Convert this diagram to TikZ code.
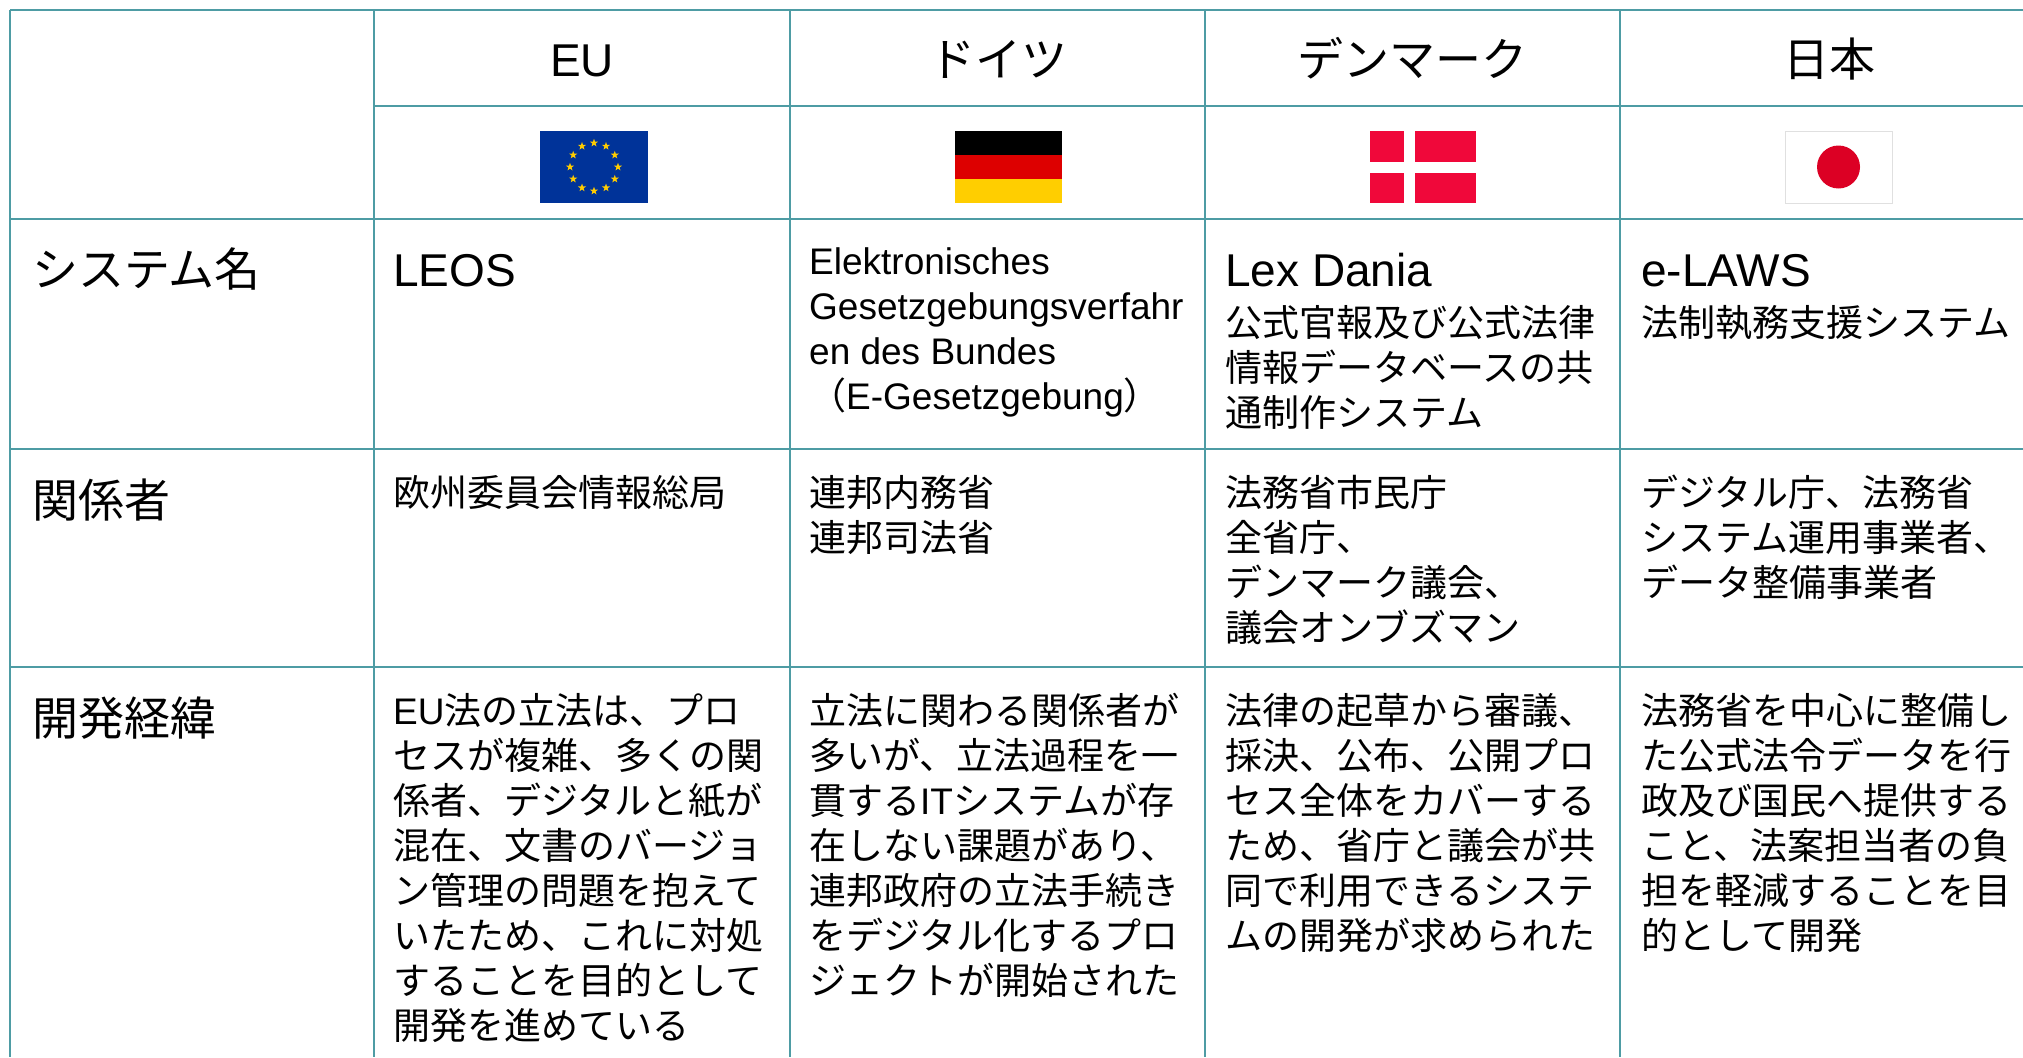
\documentclass[tikz,border=0pt]{standalone}
\usepackage{fontspec}
\setmainfont{Liberation Sans}
\newfontfamily\jp{Noto Sans CJK JP}
\usetikzlibrary{shapes.geometric}
\definecolor{gridc}{HTML}{4E9CA4}
\definecolor{eublue}{HTML}{003399}
\definecolor{euyellow}{HTML}{FFCC00}
\definecolor{degold}{HTML}{FFCE00}
\definecolor{dered}{HTML}{DD0000}
\definecolor{dkred}{HTML}{F0083A}
\definecolor{jpred}{HTML}{DC0024}
\newcommand\la[1]{{\rmfamily #1}}
\newcommand\fst{\rule{0pt}{40pt}}
\tikzset{
  gridline/.style={draw=gridc, line width=2.4pt},
  hdr/.style={font=\fontsize{46}{50}\selectfont, anchor=base, inner sep=0pt},
  hdrjp/.style={font=\jp\fontsize{46}{50}\selectfont, anchor=base, inner sep=0pt},
  lbl/.style={font=\jp\fontsize{46}{50}\selectfont, anchor=base west, inner sep=0pt},
  big/.style={font=\fontsize{46}{50}\selectfont, anchor=base west, inner sep=0pt},
  body/.style={font=\jp\fontsize{37}{45}\selectfont, anchor=north west, inner sep=0pt, align=left},
  bodyla/.style={font=\fontsize{37}{45}\selectfont, anchor=north west, inner sep=0pt, align=left},
  eustar/.style={star, star points=5, star point ratio=2.5, minimum size=8.5pt, inner sep=0pt, fill=euyellow, draw=none}
}
\begin{document}
\begin{tikzpicture}[x=1pt,y=-1pt]
\useasboundingbox (0,0) rectangle (2023,1057);
\fill[white] (0,0) rectangle (2023,1057);

% grid
\draw[gridline] (10,10) -- (2023,10);
\draw[gridline] (10,10) -- (10,1057);
\foreach \x in {374,790,1205,1620}{\draw[gridline] (\x,10) -- (\x,1057);}
\draw[gridline] (374,106) -- (2023,106);
\foreach \y in {219,449,667}{\draw[gridline] (10,\y) -- (2023,\y);}

% header
\node[hdr] (hEU) at (582,76) {EU};
\node[hdrjp] (hDE) at (998,76) {ドイツ};
\node[hdrjp] (hDK) at (1412,76) {デンマーク};
\node[hdrjp] (hJP) at (1829,76) {日本};

% flags
\fill[eublue] (540,131) rectangle (648,203);
\foreach \i in {0,...,11}{
  \node[eustar] (st\i) at ({594+24*cos(\i*30)},{167+24*sin(\i*30)}) {};
}
\fill[black] (955,131) rectangle (1062,155);
\fill[dered] (955,155) rectangle (1062,179);
\fill[degold] (955,179) rectangle (1062,203);
\fill[dkred] (1370,131) rectangle (1476,203);
\fill[white] (1404,131) rectangle (1415,203);
\fill[white] (1370,162) rectangle (1476,173);
\filldraw[fill=white, draw=black!12, line width=0.8pt] (1785,131) rectangle (1892,203);
\fill[jpred] (1838.5,167) circle (21.5);

% row labels
\node[lbl] (l1) at (32,286) {システム名};
\node[lbl] (l2) at (32,517) {関係者};
\node[lbl] (l3) at (32,735) {開発経緯};

% row: system name
\node[big] (eu1) at (393,286) {LEOS};
\node[bodyla] (de1) at (809,234) {\fst Elektronisches\\Gesetzgebungsverfahr\\en des Bundes\\{\jp （}E-Gesetzgebung{\jp ）}};
\node[big] (dk1a) at (1225,286) {Lex Dania};
\node[body] (dk1b) at (1225,296) {\fst 公式官報及び公式法律\\情報データベースの共\\通制作システム};
\node[big] (jp1a) at (1641,286) {e-LAWS};
\node[body] (jp1b) at (1641,296) {\fst 法制執務支援システム};

% row: stakeholders
\node[body] (eu2) at (393,466) {\fst 欧州委員会情報総局};
\node[body] (de2) at (809,466) {\fst 連邦内務省\\連邦司法省};
\node[body] (dk2) at (1225,466) {\fst 法務省市民庁\\全省庁、\\デンマーク議会、\\議会オンブズマン};
\node[body] (jp2) at (1641,466) {\fst デジタル庁、法務省\\システム運用事業者、\\データ整備事業者};

% row: background
\node[body] (eu3) at (393,684) {\fst \la{EU}法の立法は、プロ\\セスが複雑、多くの関\\係者、デジタルと紙が\\混在、文書のバージョ\\ン管理の問題を抱えて\\いたため、これに対処\\することを目的として\\開発を進めている};
\node[body] (de3) at (809,684) {\fst 立法に関わる関係者が\\多いが、立法過程を一\\貫する\la{IT}システムが存\\在しない課題があり、\\連邦政府の立法手続き\\をデジタル化するプロ\\ジェクトが開始された};
\node[body] (dk3) at (1225,684) {\fst 法律の起草から審議、\\採決、公布、公開プロ\\セス全体をカバーする\\ため、省庁と議会が共\\同で利用できるシステ\\ムの開発が求められた};
\node[body] (jp3) at (1641,684) {\fst 法務省を中心に整備し\\た公式法令データを行\\政及び国民へ提供する\\こと、法案担当者の負\\担を軽減することを目\\的として開発};
\end{tikzpicture}
\end{document}
